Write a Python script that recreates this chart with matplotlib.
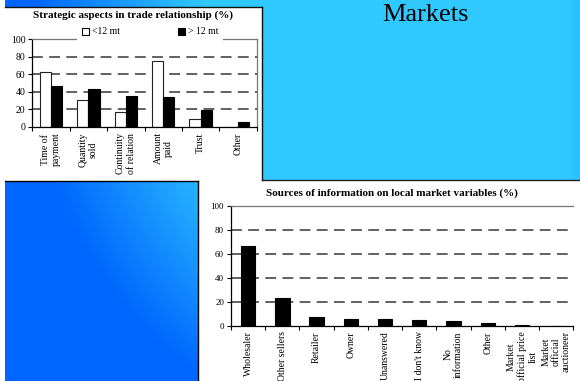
import numpy as np
import matplotlib
matplotlib.use("Agg")
import matplotlib.pyplot as plt
from matplotlib.patches import Rectangle, Patch
from matplotlib.ticker import FixedLocator, NullFormatter

plt.rcParams['font.family'] = ['Liberation Serif', 'DejaVu Serif']

# Strategic aspects in trade relationship (%)
aspects = ['Time of\npayment', 'Quantity\nsold', 'Continuity\nof relation',
           'Amount\npaid', 'Trust', 'Other']
under_12mt = [63, 31, 17, 75, 9, 0]
over_12mt = [46, 43, 35, 34, 19, 5]

# Sources of information on local market variables (%)
sources = ['Wholesaler', 'Other sellers', 'Retailer', 'Owner', 'Unanswered',
           "I don't know", 'No\ninformation', 'Other',
           'Market\nofficial price\nlist', 'Market\nofficial\nauctioneer']
source_share = [67, 23, 7, 6, 6, 5, 4, 2, 1, 0]

y_ticks = [0, 20, 40, 60, 80, 100]

W, H = 580, 381
fig = plt.figure(figsize=(W / 100, H / 100), dpi=100, facecolor='#2aaeff')

# slide background: blue with a cyan glow towards the upper right
bg = fig.add_axes([0, 0, 1, 1])
bg.set_xlim(0, W)
bg.set_ylim(H, 0)
bg.axis('off')
yy, xx = np.mgrid[0:H, 0:W]
d = np.hypot(xx - 430, yy - 50)
t = np.clip((d - 230) / 170, 0, 1)[..., None]
cyan = np.array([0.19, 0.79, 1.0])
dark = np.array([0.0, 0.40, 1.0])
img = cyan * (1 - t) + dark * t
edge = np.clip((xx - 568) / 12, 0, 1)[..., None] * 0.12
img = img * (1 - edge) + dark * edge
img[:, :5] = 1.0
bg.imshow(img, extent=(0, W, H, 0), aspect='auto', interpolation='bilinear')

# white panels holding the two charts
bg.add_patch(Rectangle((0, 6.5), 262, 174, facecolor='white', edgecolor='none'))
bg.add_patch(Rectangle((198, 180.5), 382, 201, facecolor='white', edgecolor='none'))
bg.plot([5, 262], [6.5, 6.5], color='#111111', lw=1.0)
bg.plot([262, 262], [6.5, 180], color='#111111', lw=1.0)
bg.plot([262, 580], [180, 180], color='#222222', lw=1.0)
bg.plot([5, 198], [181, 181], color='black', lw=1.0)
bg.plot([198, 198], [181, 381], color='black', lw=1.0)

bg.text(425, 15, 'Markets', fontsize=19, ha='center', va='center', color='black')

grid_kw = dict(color='#555555', lw=1.3, dashes=(6, 3.5), zorder=0.5)


def style_axes(ax, n, label_size):
    ax.set_xlim(-0.5, n - 0.5)
    ax.set_ylim(0, 100)
    ax.set_yticks(y_ticks)
    ax.tick_params(axis='y', labelsize=label_size, length=3, width=0.8, pad=2)
    ax.xaxis.set_minor_locator(FixedLocator(np.arange(n + 1) - 0.5))
    ax.xaxis.set_minor_formatter(NullFormatter())
    ax.tick_params(axis='x', which='major', length=0, pad=4, labelsize=7)
    ax.tick_params(axis='x', which='minor', length=3, width=0.8)
    for v in y_ticks[1:-1]:
        ax.axhline(v, **grid_kw)
    ax.spines['left'].set_color('black')
    ax.spines['bottom'].set_color('black')
    ax.spines['top'].set_color('#777777')
    ax.spines['right'].set_color('#777777')
    for s in ax.spines.values():
        s.set_linewidth(0.9)


# top chart
ax1 = fig.add_axes([32.3 / W, 1 - 126.7 / H, 224.4 / W, 87.4 / H])
x1 = np.arange(len(aspects))
ax1.bar(x1 - 0.15, under_12mt, width=0.3, color='white', edgecolor='#222222',
        linewidth=0.8, zorder=2)
ax1.bar(x1 + 0.15, over_12mt, width=0.3, color='black', edgecolor='black',
        linewidth=0.8, zorder=2)
style_axes(ax1, len(aspects), 7)
ax1.set_xticks(x1)
ax1.set_xticklabels(aspects, rotation=90, ha='center', va='top',
                    multialignment='center')
fig.text(133 / W, 1 - 15 / H, 'Strategic aspects in trade relationship (%)',
         fontsize=8, fontweight='bold', ha='center', va='center')
handles = [Patch(facecolor='white', edgecolor='black', linewidth=0.8, label='<12 mt'),
           Patch(facecolor='black', edgecolor='black', linewidth=0.8, label='> 12 mt')]
leg = ax1.legend(handles=handles, ncol=2, loc='center',
                 bbox_to_anchor=(150 / W, 1 - 32 / H),
                 bbox_transform=fig.transFigure, fontsize=7, frameon=True,
                 handlelength=0.7, handleheight=0.7, handletextpad=0.3,
                 columnspacing=6.0, borderpad=0.5, fancybox=False)
leg.get_frame().set_facecolor('white')
leg.get_frame().set_edgecolor('none')
leg.get_frame().set_alpha(1)

# bottom chart
ax2 = fig.add_axes([231 / W, 1 - 325.7 / H, 342.3 / W, 119.7 / H])
x2 = np.arange(len(sources))
ax2.bar(x2, source_share, width=0.42, color='black', edgecolor='black',
        linewidth=0.8, zorder=2)
style_axes(ax2, len(sources), 6.5)
ax2.spines['right'].set_visible(False)
ax2.set_xticks(x2)
ax2.set_xticklabels(sources, rotation=90, ha='center', va='top',
                    multialignment='center')
fig.text(391.7 / W, 1 - 193 / H,
         'Sources of information on local market variables (%)',
         fontsize=8, fontweight='bold', ha='center', va='center')

fig.savefig('out.png', dpi=100, facecolor=fig.get_facecolor())
